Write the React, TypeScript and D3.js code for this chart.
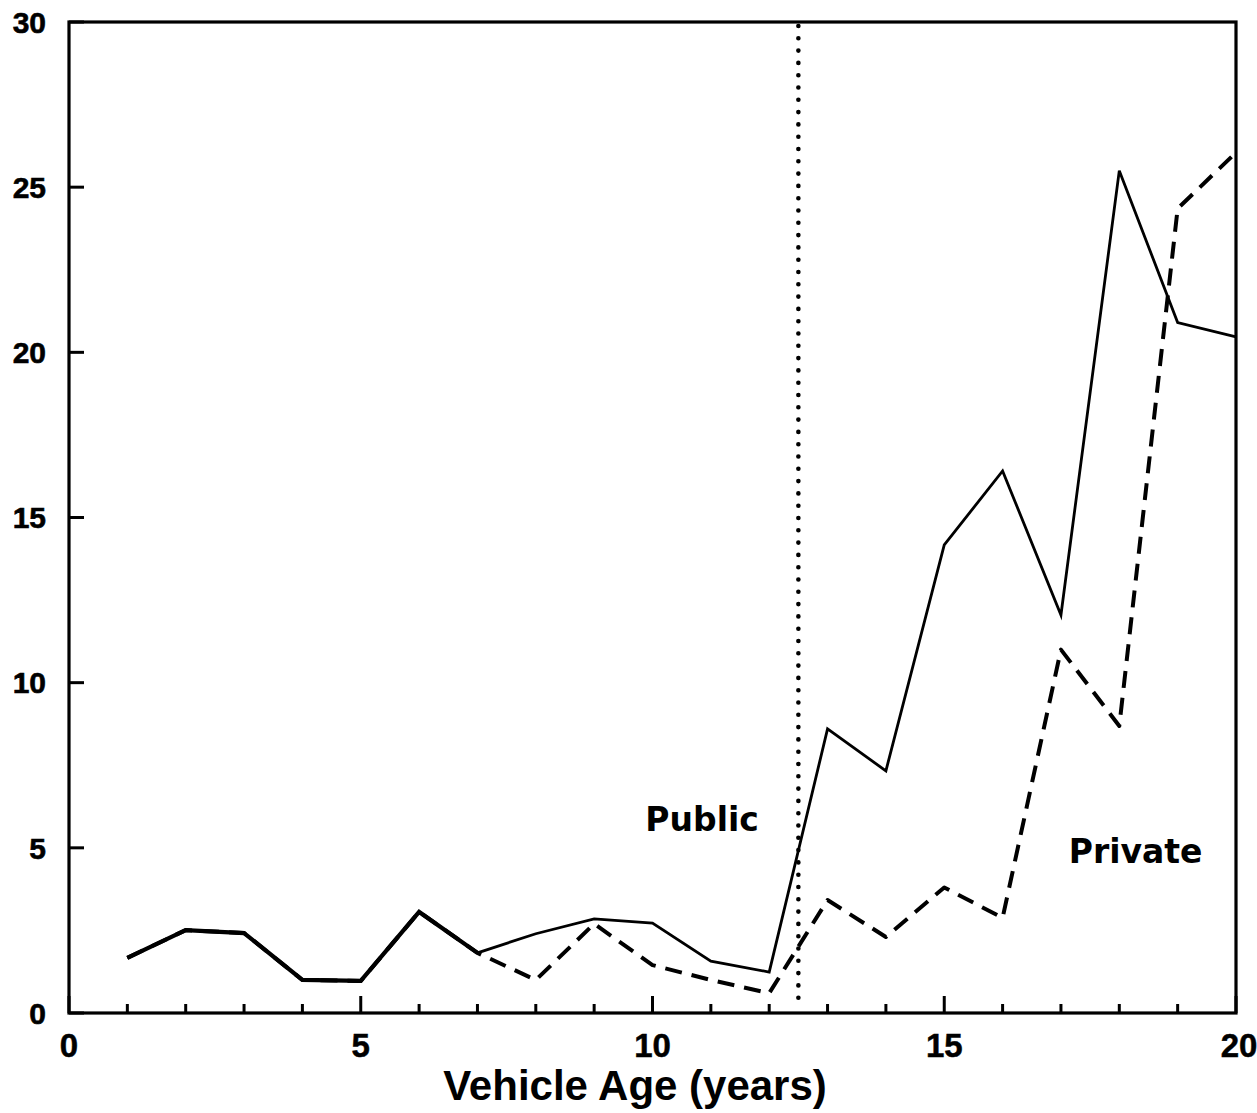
import React, { useEffect, useRef } from "react";
import * as d3 from "d3";

const ages = [1, 2, 3, 4, 5, 6, 7, 8, 9, 10, 11, 12, 13, 14, 15, 16, 17, 18, 19, 20];
const solidSeries = [1.67, 2.51, 2.42, 1.0, 0.97, 3.06, 1.82, 2.4, 2.85, 2.72, 1.57, 1.24, 8.6, 7.33, 14.17, 16.41, 12.05, 25.5, 20.9, 20.47];
const dashedSeries = [1.67, 2.51, 2.42, 1.0, 0.97, 3.06, 1.82, 1.0, 2.7, 1.45, 1.0, 0.6, 3.42, 2.3, 3.8, 2.88, 11.0, 8.69, 24.35, 26.05];
const xTicks = [0, 5, 10, 15, 20];
const xMinorTicks = d3.range(0, 21);
const yTicks = [0, 5, 10, 15, 20, 25, 30];
const divider = 12.5;
const xTitle = "Vehicle Age (years)";
const annotations = [
  { text: "Public", x: 10.85, y: 5.5 },
  { text: "Private", x: 18.28, y: 4.55 },
];

const W = 1257;
const H = 1113;
const M = { left: 69, right: 1236, top: 22, bottom: 1013 };

export default function App() {
  const ref = useRef<SVGSVGElement>(null);
  useEffect(() => {
    const svg = d3.select(ref.current);
    svg.selectAll("*").remove();
    const x = d3.scaleLinear().domain([0, 20]).range([M.left, M.right]);
    const y = d3.scaleLinear().domain([0, 30]).range([M.bottom, M.top]);
    const font = "'Liberation Sans', Arial, sans-serif";

    // frame
    svg.append("rect")
      .attr("x", M.left).attr("y", M.top)
      .attr("width", M.right - M.left).attr("height", M.bottom - M.top)
      .attr("fill", "none").attr("stroke", "#000").attr("stroke-width", 3.2);

    // x ticks (inward)
    svg.append("g").selectAll("line").data(xMinorTicks).join("line")
      .attr("x1", (d) => x(d)).attr("x2", (d) => x(d))
      .attr("y1", M.bottom).attr("y2", (d) => M.bottom - (d % 5 === 0 ? 17 : 9))
      .attr("stroke", "#000").attr("stroke-width", 3);

    // y ticks (inward)
    svg.append("g").selectAll("line").data(yTicks).join("line")
      .attr("x1", M.left).attr("x2", M.left + 15)
      .attr("y1", (d) => y(d)).attr("y2", (d) => y(d))
      .attr("stroke", "#000").attr("stroke-width", 3);

    // y tick labels
    svg.append("g").selectAll("text").data(yTicks).join("text")
      .attr("x", 46).attr("y", (d) => y(d))
      .attr("dy", "0.36em")
      .attr("text-anchor", "end")
      .attr("font-family", font).attr("font-weight", "bold").attr("font-size", 30)
      .attr("stroke", "#000").attr("stroke-width", 0.6)
      .text((d) => String(d));

    // x tick labels
    svg.append("g").selectAll("text").data(xTicks).join("text")
      .attr("x", (d) => x(d) - (d === 20 ? -3 : 0)).attr("y", 1057)
      .attr("text-anchor", "middle")
      .attr("font-family", font).attr("font-weight", "bold").attr("font-size", 33)
      .attr("stroke", "#000").attr("stroke-width", 0.5)
      .text((d) => String(d));

    // x title
    svg.append("text")
      .attr("x", 635).attr("y", 1100)
      .attr("text-anchor", "middle")
      .attr("font-family", font).attr("font-weight", "bold").attr("font-size", 42)
      .text(xTitle);

    // dotted divider
    svg.append("line")
      .attr("x1", x(divider)).attr("x2", x(divider))
      .attr("y1", M.top + 4).attr("y2", M.bottom - 4)
      .attr("stroke", "#000").attr("stroke-width", 4.6)
      .attr("stroke-linecap", "round")
      .attr("stroke-dasharray", "0 12.3");

    const line = d3.line<number>()
      .x((_, i) => x(ages[i]))
      .y((d) => y(d));

    svg.append("path")
      .attr("d", line(dashedSeries) as string)
      .attr("fill", "none").attr("stroke", "#000").attr("stroke-width", 4)
      .attr("stroke-dasharray", "17 10")
      .attr("stroke-linejoin", "round");

    svg.append("path")
      .attr("d", line(solidSeries) as string)
      .attr("fill", "none").attr("stroke", "#000").attr("stroke-width", 2.8)
      .attr("stroke-linejoin", "miter");

    // overlapping section drawn thicker
    svg.append("path")
      .attr("d", line(solidSeries.slice(0, 7)) as string)
      .attr("fill", "none").attr("stroke", "#000").attr("stroke-width", 4.2);

    svg.append("g").selectAll("text").data(annotations).join("text")
      .attr("x", (d) => x(d.x)).attr("y", (d) => y(d.y))
      .attr("text-anchor", "middle")
      .attr("font-family", "'DejaVu Sans', sans-serif").attr("font-weight", "bold").attr("font-size", 33)
      .text((d) => d.text);
  }, []);

  return (
    <svg
      ref={ref}
      width={W}
      height={H}
      style={{ position: "absolute", left: 0, top: 0, background: "#fff" }}
    />
  );
}
